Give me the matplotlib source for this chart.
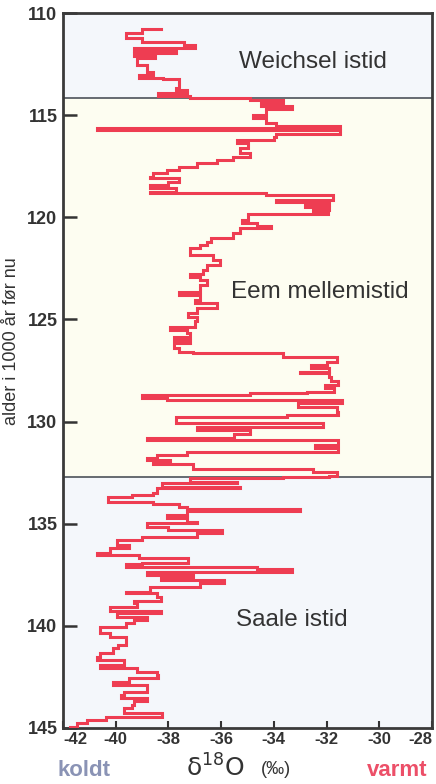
import numpy as np
import matplotlib
matplotlib.use("Agg")
import matplotlib.pyplot as plt

plt.rcParams['axes.unicode_minus'] = False
plt.rcParams['font.family'] = ['Liberation Sans', 'DejaVu Sans']

# age (1000 years before present) and delta-18O (permil)
ages = [110.8, 110.8, 111.0, 111.2, 111.4, 111.55, 111.7, 111.85, 111.95, 112.1,
        112.2, 112.45, 112.55, 112.9, 113.05, 113.2, 113.25, 113.5, 113.65, 113.75,
        113.9, 114.05, 114.15, 114.25, 114.4, 114.55, 114.7, 115.0, 115.15, 115.4,
        115.55, 115.65, 115.75, 115.9, 116.05, 116.2, 116.35, 116.6, 116.85, 117.05,
        117.2, 117.35, 117.55, 117.7, 117.85, 118.05, 118.1, 118.25, 118.4, 118.55,
        118.75, 118.8, 118.9, 119.15, 119.25, 119.4, 119.5, 119.65, 119.75, 119.85,
        120.15, 120.3, 120.45, 120.5, 120.75, 121.0, 121.2, 121.35, 121.5, 121.7,
        121.85, 122.1, 122.35, 122.6, 122.8, 122.9, 123.05, 123.3, 123.65, 123.8,
        124.05, 124.2, 124.45, 124.7, 124.9, 125.1, 125.35, 125.5, 125.65, 125.85,
        126.0, 126.15, 126.4, 126.6, 126.65, 126.85, 127.1, 127.25, 127.4, 127.55,
        127.6, 127.8, 128.0, 128.2, 128.35, 128.55, 128.6, 128.7, 128.85, 128.95,
        129.1, 129.3, 129.55, 129.7, 129.8, 130.0, 130.05, 130.25, 130.4, 130.6,
        130.8, 130.9, 131.15, 131.3, 131.5, 131.65, 131.8, 131.9, 132.0, 132.1,
        132.3, 132.45, 132.65, 132.7, 132.75, 132.95, 133.0, 133.2, 133.25, 133.5,
        133.6, 133.7, 133.95, 134.05, 134.2, 134.3, 134.4, 134.55, 134.7, 134.9,
        134.95, 135.15, 135.3, 135.45, 135.65, 135.8, 136.05, 136.2, 136.45, 136.55,
        136.7, 136.9, 136.95, 137.1, 137.2, 137.35, 137.5, 137.65, 137.75, 137.9,
        138.1, 138.35, 138.4, 138.6, 138.8, 138.9, 139.1, 139.25, 139.35, 139.55,
        139.7, 139.85, 140.05, 140.2, 140.35, 140.55, 140.8, 140.95, 141.1, 141.35,
        141.5, 141.65, 141.9, 142.05, 142.25, 142.4, 142.55, 142.75, 142.9, 143.05,
        143.25, 143.4, 143.55, 143.7, 143.85, 144.0, 144.25, 144.45, 144.6, 144.75,
        144.95]
d18o = [-38.3, -39.0, -39.6, -39.0, -37.4, -37.0, -39.3, -37.7, -39.3, -38.5,
        -39.2, -39.2, -38.8, -38.6, -39.1, -38.2, -37.6, -37.6, -37.7, -37.3,
        -38.4, -37.2, -34.9, -33.65, -34.5, -33.3, -34.3, -34.8, -34.3, -33.9,
        -31.5, -40.7, -31.5, -33.9, -34.0, -35.4, -35.0, -35.3, -34.9, -35.55,
        -36.15, -36.9, -37.6, -38.05, -38.6, -38.7, -37.6, -38.0, -38.7, -37.7,
        -38.7, -34.3, -31.75, -33.9, -31.9, -32.8, -31.9, -32.5, -31.95, -35.0,
        -35.2, -34.65, -34.1, -35.3, -35.55, -36.4, -36.55, -36.8, -37.2, -37.2,
        -36.3, -36.05, -36.55, -36.7, -37.2, -36.8, -36.55, -36.8, -37.6, -36.8,
        -37.0, -36.15, -36.9, -37.25, -36.9, -37.0, -37.95, -37.3, -37.2, -37.8,
        -37.2, -37.8, -37.6, -37.05, -33.65, -31.6, -32.0, -32.6, -31.9, -33.0,
        -31.9, -31.85, -31.55, -32.05, -31.7, -32.75, -34.9, -39.0, -38.05, -31.4,
        -33.1, -31.6, -31.55, -33.5, -37.7, -37.7, -32.15, -36.9, -34.9, -35.5,
        -38.8, -31.55, -32.45, -31.55, -37.3, -38.45, -38.8, -37.95, -38.6, -37.05,
        -32.5, -31.6, -31.9, -33.65, -37.2, -35.4, -38.25, -35.3, -38.45, -38.6,
        -39.4, -40.3, -38.6, -37.6, -37.3, -33.0, -37.3, -38.05, -37.3, -36.9,
        -38.8, -38.0, -35.95, -36.9, -39.0, -39.95, -39.5, -40.2, -40.7, -39.1,
        -37.25, -39.0, -39.6, -34.65, -33.3, -38.8, -37.05, -38.3, -35.9, -36.8,
        -38.7, -39.6, -38.45, -38.3, -39.3, -39.2, -40.2, -38.3, -39.95, -38.8,
        -39.3, -39.6, -40.6, -40.6, -40.2, -39.6, -39.6, -39.9, -40.1, -40.6,
        -40.7, -39.7, -40.6, -39.2, -38.45, -38.4, -39.5, -40.1, -38.8, -38.8,
        -39.7, -39.8, -38.8, -39.3, -39.4, -39.7, -38.25, -40.35, -41.1, -41.45,
        -41.75]

period_bounds = [110, 114.15, 132.7, 145]
period_names = ["Weichsel istid", "Eem mellemistid", "Saale istid"]
yticks = [110, 115, 120, 125, 130, 135, 140, 145]
xticks = [-42, -40, -38, -36, -34, -32, -30, -28]

fig = plt.figure(figsize=(4.36, 7.84), dpi=100)
ax = fig.add_axes([63/436, 1-728/784, (432-63)/436, (728-13)/784])

bg = ['#f4f7fb', '#fdfdf1', '#f4f7fb']
for i in range(3):
    ax.axhspan(period_bounds[i], period_bounds[i+1], color=bg[i], zorder=0, lw=0)
for b in period_bounds[1:3]:
    ax.axhline(b, color='#5a5f66', lw=1.3, zorder=1)

A = np.asarray(ages)
V = np.asarray(d18o)
ys = np.r_[np.repeat(A, 2)[1:], 145.0]
xs = np.repeat(V, 2)
ax.plot(xs, ys, color='#ee3d52', lw=2.2, solid_joinstyle='miter', zorder=3)

ax.set_xlim(-42, -28)
ax.set_ylim(145, 110)
ax.set_yticks(yticks)
ax.set_xticks(xticks)
ax.set_yticklabels([str(t) for t in yticks], fontsize=13, fontweight='bold', color='#333333')
ax.set_xticklabels([str(t) for t in xticks], fontsize=12, fontweight='bold', color='#333333')
ax.tick_params(axis='y', direction='in', length=10, width=1.8, color='#333333', pad=4)
ax.tick_params(axis='x', direction='in', length=5, width=1.5, color='#333333', pad=3)
xl = ax.get_xticklabels()
xl[-1].set_horizontalalignment('right')
xl[-1].set_x(-27.95)
xl[0].set_horizontalalignment('left')
for s in ax.spines.values():
    s.set_color('#3a3a3a')
    s.set_linewidth(2)

text_pos = [(-32.5, 112.4), (-32.25, 123.65), (-33.3, 139.7)]
for name, (tx, ty) in zip(period_names, text_pos):
    ax.text(tx, ty, name, fontsize=17.5, color='#333333', ha='center', va='center', zorder=4)

fig.text(12/436, 1-341/784, "alder i 1000 år før nu", rotation=90, fontsize=13,
         color='#333333', ha='center', va='center')
fig.text(84/436, 1-770/784, "koldt", fontsize=16, color='#8a93b5', ha='center', va='center',
         fontweight='bold')
fig.text(397/436, 1-770/784, "varmt", fontsize=16, color='#ec4f68', ha='center', va='center',
         fontweight='bold')
fig.text(215/436, 1-768/784, r"$\mathregular{\delta^{18}O}$", fontsize=18, color='#333333',
         ha='center', va='center', family='DejaVu Sans')
fig.text(276/436, 1-770/784, "(‰)", fontsize=13, color='#333333', ha='center', va='center')

fig.savefig("out.png", dpi=100)
